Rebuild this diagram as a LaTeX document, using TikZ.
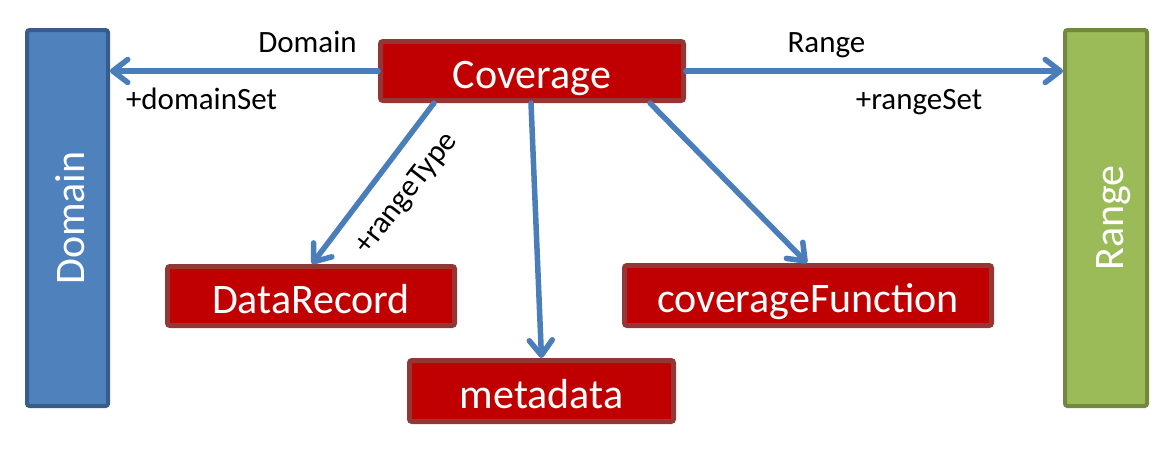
\documentclass[tikz,border=0pt]{standalone}
\usepackage{fontspec}
\setmainfont{Carlito}
\usetikzlibrary{arrows.meta}
\definecolor{dblue}{HTML}{4F81BD}
\definecolor{dblueb}{HTML}{385D8A}
\definecolor{rgreen}{HTML}{9BBB59}
\definecolor{rgreenb}{HTML}{71893F}
\definecolor{cred}{HTML}{C00000}
\definecolor{credb}{HTML}{943634}
\definecolor{arrblue}{HTML}{4A7EBB}
\tikzset{
  boxtext/.style={font=\fontsize{42}{42}\selectfont, text=white, inner sep=0pt,
    text height=34pt, text depth=0pt, rounded corners=2.5pt},
  classbox/.style={boxtext, fill=cred, draw=credb, line width=5pt},
  sidebox/.style={boxtext, line width=4pt},
  assoc/.style={draw=arrblue, line width=5.5pt, line cap=round,
    -{Straight Barb[round, length=15pt, width=23pt]}},
  lbl/.style={font=\fontsize{31}{31}\selectfont, inner sep=0pt, anchor=base}
}
\begin{document}
\begin{tikzpicture}[x=1pt,y=-1pt]
\useasboundingbox (0,0) rectangle (1172,450);
\node[sidebox, fill=dblue, draw=dblueb, minimum width=81pt, minimum height=376pt] (dom) at (67.5,218) {};
\node[rotate=90, boxtext, rounded corners=0pt] (domt) at (67.5,218) {Domain};
\node[sidebox, fill=rgreen, draw=rgreenb, minimum width=82pt, minimum height=376pt] (rng) at (1106,218) {};
\node[rotate=90, boxtext, rounded corners=0pt] (rngt) at (1106,218) {Range};
\node[classbox, minimum width=303pt, minimum height=59pt] (cov) at (532,71) {Coverage};
\node[classbox, minimum width=287pt, minimum height=59pt] (dr) at (311,296) {DataRecord};
\node[classbox, minimum width=264pt, minimum height=61pt] (md) at (541.5,391) {metadata};
\node[classbox, minimum width=367pt, minimum height=60pt] (cf) at (808,295.5) {coverageFunction};
\draw[assoc] (cov.west) -- (cov.west -| dom.east);
\draw[assoc] (cov.east) -- (cov.east -| rng.west);
\draw[assoc] ([xshift=-98pt]cov.south) -- ([xshift=1pt]dr.north);
\draw[assoc] ([xshift=-1pt]cov.south) -- (md.north);
\draw[assoc] ([xshift=118pt]cov.south) -- ([xshift=-1pt]cf.north);
\node[lbl] (ldom) at (307.5,52) {Domain};
\node[lbl] (ldomset) at (201.5,109) {+domainSet};
\node[lbl] (lrng) at (826.5,52) {Range};
\node[lbl] (lrngset) at (919,109) {+rangeSet};
\node[font=\fontsize{31}{31}\selectfont, inner sep=0pt, rotate=52] (lrt) at (407,194) {+rangeType};
\end{tikzpicture}
\end{document}
